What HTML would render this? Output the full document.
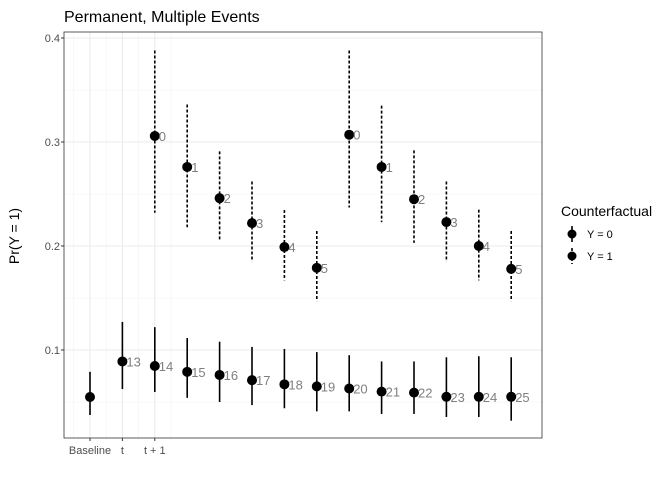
<!DOCTYPE html>
<html><head><meta charset="utf-8"><style>
body{margin:0;background:#fff;}
svg{font-family:"Liberation Sans",sans-serif;}
</style></head><body>
<svg id="chart" width="672" height="480"></svg>
<script>
const categories=["Baseline","t","t + 1","","","","","","","","","","",""];
const y1Values=[0.0548,0.089,0.0846,0.079,0.076,0.071,0.067,0.065,0.063,0.060,0.059,0.055,0.055,0.055];
const y1Low=[0.0375,0.0625,0.0596,0.054,0.050,0.047,0.044,0.041,0.041,0.0385,0.0385,0.0356,0.0356,0.032];
const y1High=[0.079,0.127,0.122,0.1115,0.108,0.103,0.101,0.098,0.095,0.089,0.089,0.093,0.094,0.093];
const y1Labels=["","13","14","15","16","17","18","19","20","21","22","23","24","25"];
const y0Index=[3,4,5,6,7,8,9,10,11,12,13,14];
const y0Values=[0.3058,0.276,0.246,0.222,0.199,0.179,0.307,0.276,0.245,0.223,0.2,0.178];
const y0Low=[0.232,0.218,0.205,0.185,0.167,0.147,0.237,0.223,0.203,0.185,0.167,0.147];
const y0High=[0.388,0.336,0.291,0.262,0.2346,0.2144,0.388,0.335,0.292,0.262,0.235,0.2144];
const y0Labels=["0","1","2","3","4","5","0","1","2","3","4","5"];
const yTicks=[0.1,0.2,0.3,0.4];
const yMinor=[0.05,0.15,0.25,0.35];

const svg=document.getElementById('chart');
const NS='http://www.w3.org/2000/svg';
const L=64,R=542,T=32,B=438;
const yS=v=>38+(0.4-v)*1040;
const xS=i=>90+(i-1)*32.4;
function mk(tag,attrs,parent){const e=document.createElementNS(NS,tag);for(const k in attrs)e.setAttribute(k,attrs[k]);(parent||svg).appendChild(e);return e;}

yMinor.forEach(v=>{const e=mk('line',{x1:L,x2:R,y1:yS(v),y2:yS(v),stroke:'#f2f2f2','stroke-width':0.6});

});
[0.5,1.5,2.5,3.5].forEach(p=>{const e=mk('line',{x1:xS(p),x2:xS(p),y1:T,y2:B,stroke:'#f2f2f2','stroke-width':0.6});

});
yTicks.forEach(v=>{const e=mk('line',{x1:L,x2:R,y1:yS(v),y2:yS(v),stroke:'#ebebeb','stroke-width':1.1});


const t=mk('line',{x1:L-3,x2:L,y1:yS(v),y2:yS(v),stroke:'#333','stroke-width':1});


const lb=mk('text',{x:L-4,y:yS(v)+4,'text-anchor':'end','font-size':11,fill:'#4d4d4d'});lb.textContent=v.toFixed(1);

});
[1,2,3].forEach(i=>{const e=mk('line',{x1:xS(i),x2:xS(i),y1:T,y2:B,stroke:'#ebebeb','stroke-width':1.1});


const t=mk('line',{x1:xS(i),x2:xS(i),y1:B,y2:B+3,stroke:'#333','stroke-width':1});


const lb=mk('text',{x:xS(i),y:B+16,'text-anchor':'middle','font-size':11,fill:'#4d4d4d'});lb.textContent=categories[i-1];

});
const border=mk('rect',{x:L,y:T,width:R-L,height:B-T,fill:'none',stroke:'#333','stroke-width':0.8});



y1Values.forEach((v,k)=>{const i=k+1;
const eb=mk('line',{x1:xS(i),x2:xS(i),y1:yS(y1High[k]),y2:yS(y1Low[k]),stroke:'#000','stroke-width':1.6});


const p=mk('circle',{cx:xS(i),cy:yS(v),r:5,fill:'#000'});


if(y1Labels[k]){const t=mk('text',{x:xS(i)+4,y:yS(v)+5,'font-size':13,fill:'#7f7f7f'});t.textContent=y1Labels[k];

}});
y0Values.forEach((v,k)=>{const i=y0Index[k];
const eb=mk('line',{x1:xS(i),x2:xS(i),y1:yS(y0High[k]),y2:yS(y0Low[k]),stroke:'#000','stroke-width':1.6,'stroke-dasharray':'3,2'});


const p=mk('circle',{cx:xS(i),cy:yS(v),r:5,fill:'#000'});


const t=mk('text',{x:xS(i)+4,y:yS(v)+5,'font-size':13,fill:'#7f7f7f'});t.textContent=y0Labels[k];

});

const ti=mk('text',{x:64,y:22,'font-size':16,fill:'#000'});ti.textContent='Permanent, Multiple Events';


const yt=mk('text',{x:0,y:0,'font-size':14,fill:'#000','text-anchor':'middle',transform:'translate(19,236) rotate(-90)'});yt.textContent='Pr(Y = 1)';



const lg=mk('g',{});


const lt=mk('text',{x:561,y:216,'font-size':14,fill:'#000'},lg);lt.textContent='Counterfactual';


[['Y = 0',''],['Y = 1','3,2']].forEach((d,k)=>{const cy=234+k*22;
const g=mk('g',{},lg);


mk('line',{x1:572,x2:572,y1:cy-8,y2:cy+8,stroke:'#000','stroke-width':1.6,'stroke-dasharray':d[1]},g);
mk('circle',{cx:572,cy:cy,r:4.5,fill:'#000'},g);
const t=mk('text',{x:587,y:cy+4,'font-size':11,fill:'#000'},g);t.textContent=d[0];});
</script>
</body></html>
